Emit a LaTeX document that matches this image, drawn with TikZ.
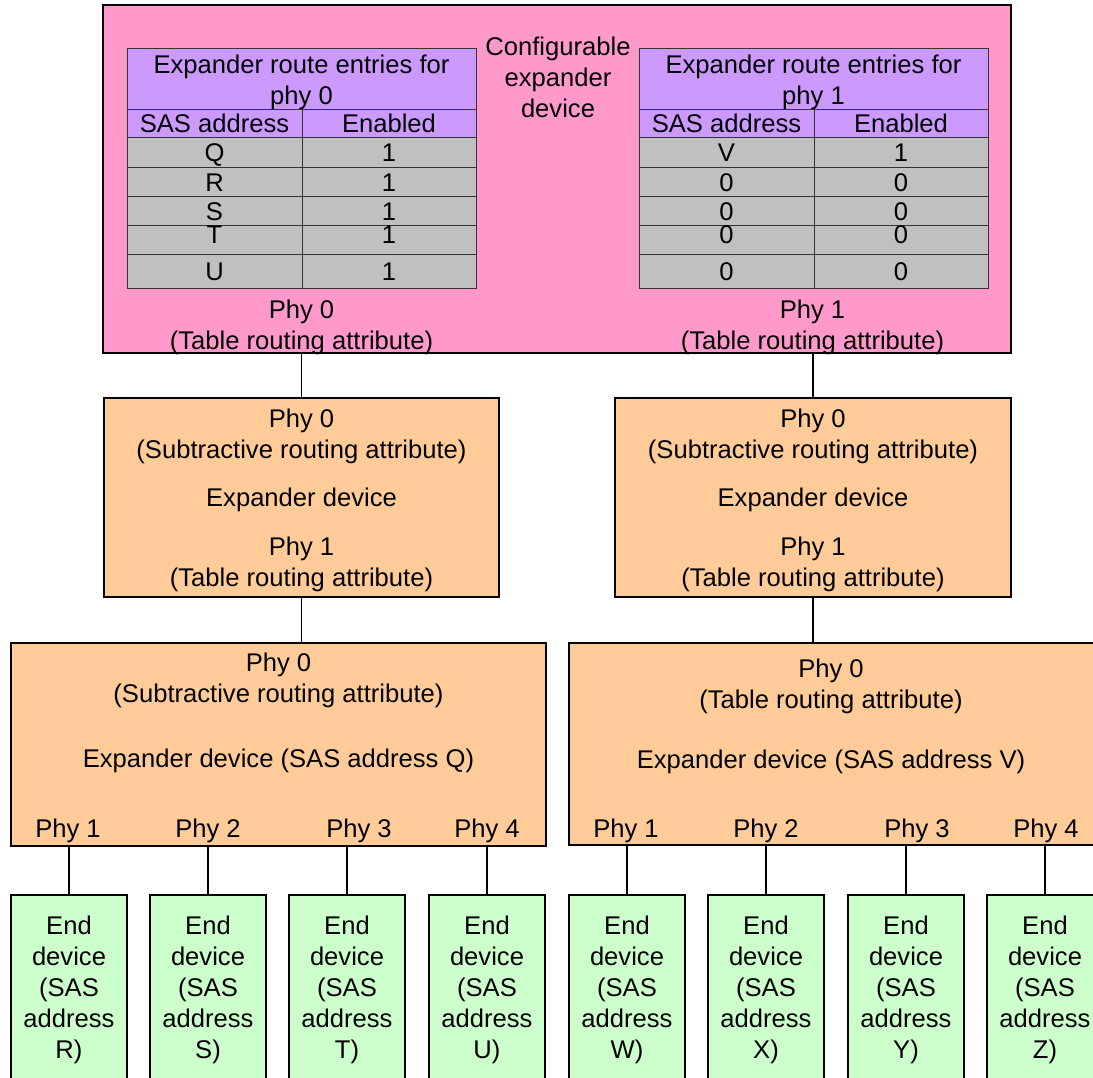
\documentclass[tikz,border=0pt]{standalone}
\usepackage{fontspec}
\setmainfont{Liberation Sans}
\definecolor{cfgpink}{HTML}{FF99CC}
\definecolor{hdrlilac}{HTML}{CC99FF}
\definecolor{rowgray}{HTML}{C0C0C0}
\definecolor{exporange}{HTML}{FFCC99}
\definecolor{endgreen}{HTML}{CCFFCC}
\begin{document}
\begin{tikzpicture}[x=1pt,y=-1pt,
  every node/.style={font=\fontsize{25.6}{31}\selectfont, align=center,
    inner sep=0pt, outer sep=0pt},
  frame/.style={draw=black, line width=1.4pt, anchor=north west},
  cell/.style={draw=black!80, line width=1pt, anchor=north west},
  one/.style={text height=21pt, text depth=3pt},
  upone/.style={text height=15pt, text depth=9pt},
  txt/.style={yshift=-2.5pt},
  wire/.style={draw=black, line width=1.4pt}]
\useasboundingbox (0,0) rectangle (1093,1078);
\clip (0,0) rectangle (1093,1078);

% configurable expander device
\node[frame, fill=cfgpink, minimum width=908pt, minimum height=348pt] (cfg) at (103,5) {};
\node[txt] (cfgtxt) at (558,74.5) {Configurable\\expander\\device};

% route tables
\foreach \tx/\tp/\tn in {127/0/A, 639/1/B}{
  \node[cell, fill=hdrlilac, minimum width=349pt, minimum height=61pt] (t\tn-h) at (\tx,49) {};
  \node[txt] (t\tn-htx) at (t\tn-h.center) {Expander route entries for\\phy \tp};
  \node[cell, fill=hdrlilac, one, minimum width=175pt, minimum height=28pt] (t\tn-sa) at (\tx,110) {SAS address};
  \node[cell, fill=hdrlilac, one, minimum width=174pt, minimum height=28pt] (t\tn-en) at (\tx+175,110) {Enabled};
}
\foreach \ry/\rh/\ra/\rb/\rc/\rd/\rs [count=\i] in
  {138/30/Q/1/V/1/one, 168/29/R/1/0/0/one, 197/29/S/1/0/0/one, 226/29/T/1/0/0/upone, 255/34/U/1/0/0/one}{
  \node[cell, fill=rowgray, \rs, minimum width=175pt, minimum height=\rh pt] (tA-a\i) at (127,\ry) {\ra};
  \node[cell, fill=rowgray, \rs, minimum width=174pt, minimum height=\rh pt] (tA-b\i) at (302,\ry) {\rb};
  \node[cell, fill=rowgray, \rs, minimum width=175pt, minimum height=\rh pt] (tB-a\i) at (639,\ry) {\rc};
  \node[cell, fill=rowgray, \rs, minimum width=174pt, minimum height=\rh pt] (tB-b\i) at (814,\ry) {\rd};
}
\node[txt] (cfgphy0) at (301.5,325) {Phy 0\\(Table routing attribute)};
\node[txt] (cfgphy1) at (812.5,325) {Phy 1\\(Table routing attribute)};

% middle expander devices
\foreach \mx/\mn/\mw in {104/L/395, 615/R/396}{
  \node[frame, fill=exporange, minimum width=\mw pt, minimum height=199pt] (mid\mn) at (\mx,398) {};
  \node (mid\mn-p0) at ([yshift=-38pt]mid\mn.north) {Phy 0\\(Subtractive routing attribute)};
  \node[one] (mid\mn-tx) at ([yshift=-99pt]mid\mn.north) {Expander device};
  \node (mid\mn-p1) at ([yshift=-166pt]mid\mn.north) {Phy 1\\(Table routing attribute)};
}

% lower expander devices
\node[frame, fill=exporange, minimum width=535pt, minimum height=203pt] (lowL) at (11,643) {};
\node[frame, fill=exporange, minimum width=535pt, minimum height=202pt] (lowR) at (569,643) {};
\node[txt] (lowL-p0) at (278.5,677.5) {Phy 0\\(Subtractive routing attribute)};
\node[one] (lowL-tx) at (278.5,758) {Expander device (SAS address Q)};
\node[txt] (lowR-p0) at (831,683.5) {Phy 0\\(Table routing attribute)};
\node[one] (lowR-tx) at (831,759) {Expander device (SAS address V)};
\foreach \px/\pn in {68/1, 208/2, 359/3, 487/4}
  \node[one] (lowL-phy\pn) at (\px,828) {Phy \pn};
\foreach \px/\pn in {626/1, 766/2, 917/3, 1046/4}
  \node[one] (lowR-phy\pn) at (\px,828) {Phy \pn};

% end devices
\foreach \ex/\ea in {11/R, 150/S, 289/T, 429/U, 569/W, 708/X, 848/Y, 987/Z}{
  \node[frame, fill=endgreen, minimum width=116pt, minimum height=200pt] (end\ea) at (\ex,895) {};
  \node (end\ea-tx) at ([yshift=-94.5pt]end\ea.north) {End\\device\\(SAS\\address\\\ea)};
}

% links
\draw[wire] (midL.north) -- (midL.north |- cfg.south);
\draw[wire] (midR.north) -- (midR.north |- cfg.south);
\draw[wire] (midL.south) -- (midL.south |- lowL.north);
\draw[wire] (midR.south) -- (midR.south |- lowR.north);
\foreach \ea in {R,S,T,U}
  \draw[wire] (end\ea.north) -- (end\ea.north |- lowL.south);
\foreach \ea in {W,X,Y,Z}
  \draw[wire] (end\ea.north) -- (end\ea.north |- lowR.south);
\end{tikzpicture}
\end{document}
